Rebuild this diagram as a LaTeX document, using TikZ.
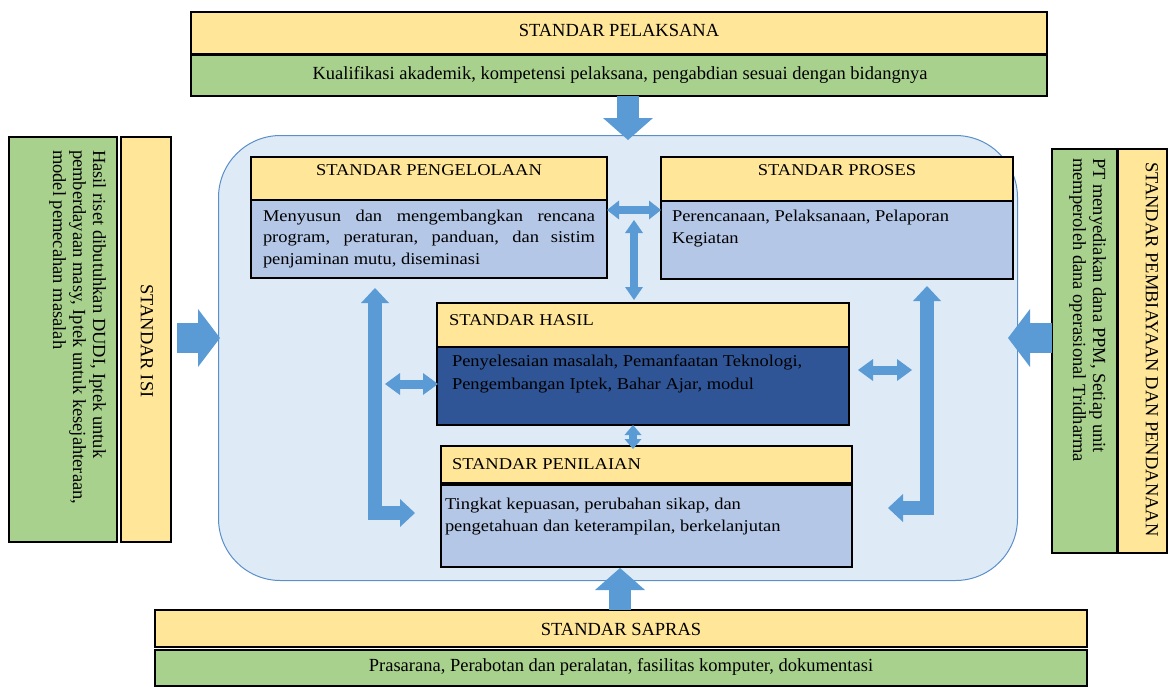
\documentclass[tikz,border=0pt]{standalone}
\usepackage{fontspec}
\setmainfont{Liberation Serif}
\newfontfamily\inr[FakeStretch=1.12]{Liberation Serif}
\usetikzlibrary{arrows.meta}
\definecolor{yel}{HTML}{FFE699}
\definecolor{grn}{HTML}{A9D18E}
\definecolor{lblue}{HTML}{B4C7E7}
\definecolor{dblue}{HTML}{2F5597}
\definecolor{bgblue}{HTML}{DEEBF7}
\definecolor{bgedge}{HTML}{5B8FC9}
\definecolor{arr}{HTML}{5B9BD5}
\begin{document}
\begin{tikzpicture}[x=1pt,y=-1pt,
  box/.style={draw=black, line width=1.3pt, inner sep=0pt, outer sep=0pt, anchor=north west},
  bigtxt/.style={inner sep=0pt, outer sep=0pt, font=\fontsize{18.5}{21}\selectfont},
  intxt/.style={inner sep=0pt, outer sep=0pt, font=\inr\fontsize{16.5}{20}\selectfont},
  fat/.style={draw=arr, line width=#1},
  ]
\useasboundingbox (0,0) rectangle (1169,686);

% big rounded container
\node[draw=bgedge, line width=1pt, fill=bgblue, rounded corners=62pt, inner sep=0pt, anchor=north west,
      minimum width=799pt, minimum height=445pt] (big) at (218,135) {};

% top: standar pelaksana
\node[box, fill=yel, minimum width=856pt, minimum height=42pt] (pelY) at (191,12) {};
\node[box, fill=grn, minimum width=856pt, minimum height=41pt] (pelG) at (191,55) {};
\node[bigtxt] (pelYt) at (619,30) {STANDAR PELAKSANA};
\node[bigtxt] (pelGt) at (620,75) {Kualifikasi akademik, kompetensi pelaksana, pengabdian sesuai dengan bidangnya};

% bottom: standar sapras
\node[box, fill=yel, minimum width=932pt, minimum height=37pt] (sapY) at (155,610) {};
\node[box, fill=grn, minimum width=932pt, minimum height=36pt] (sapG) at (155,650) {};
\node[bigtxt] (sapYt) at (621,629) {STANDAR SAPRAS};
\node[bigtxt] (sapGt) at (621,667) {Prasarana, Perabotan dan peralatan, fasilitas komputer, dokumentasi};

% left: standar isi
\node[box, fill=grn, minimum width=108pt, minimum height=405pt] (isiG) at (9,137) {};
\node[box, fill=yel, minimum width=50pt, minimum height=405pt] (isiY) at (121,137) {};
\node[bigtxt, rotate=-90] (isiYt) at (147,341) {STANDAR ISI};
\node[bigtxt, rotate=-90, anchor=north west, align=left, font=\fontsize{18.5}{20}\selectfont] (isiGt) at (106,150)
  {Hasil riset dibutuhkan DUDI, Iptek untuk\\pemberdayaan masy, Iptek untuk kesejahteraan,\\model pemecahan masalah};

% right: standar pembiayaan
\node[box, fill=grn, minimum width=65pt, minimum height=404pt] (bayG) at (1052,149) {};
\node[box, fill=yel, minimum width=49pt, minimum height=404pt] (bayY) at (1118,149) {};
\node[bigtxt, rotate=-90, anchor=west] (bayYt) at (1152,162) {STANDAR PEMBIAYAAN DAN PENDANAAN};
\node[bigtxt, rotate=-90, anchor=north west, align=left, font=\fontsize{18.5}{20}\selectfont] (bayGt) at (1106,158)
  {PT menyediakan dana PPM, Setiap unit\\memperoleh dana operasional Tridharma};

% standar pengelolaan
\node[box, fill=yel, minimum width=356pt, minimum height=43pt] (pgH) at (251,157) {};
\node[box, fill=lblue, minimum width=356pt, minimum height=78pt] (pgB) at (251,200) {};
\node[intxt] (pgHt) at (429,170) {STANDAR PENGELOLAAN};
\node[intxt, anchor=north west, text width=332pt, align=justify, font=\inr\fontsize{16.5}{21.5}\selectfont] (pgBt) at (263,210)
  {\tolerance=10000\hyphenpenalty=10000 Menyusun dan mengembangkan rencana\linebreak program, peraturan, panduan, dan sistim\linebreak penjaminan mutu, diseminasi};

% standar proses
\node[box, fill=yel, minimum width=352pt, minimum height=44pt] (prH) at (661,157) {};
\node[box, fill=lblue, minimum width=352pt, minimum height=78pt] (prB) at (661,201) {};
\node[intxt] (prHt) at (837,170) {STANDAR PROSES};
\node[intxt, anchor=north west, align=left, font=\inr\fontsize{16.5}{22}\selectfont] (prBt) at (672,210)
  {Perencanaan, Pelaksanaan, Pelaporan\\Kegiatan};

% standar hasil
\node[box, fill=yel, minimum width=412pt, minimum height=44pt] (hsH) at (437,303) {};
\node[box, fill=dblue, minimum width=412pt, minimum height=78pt] (hsB) at (437,347) {};
\node[intxt, anchor=west] (hsHt) at (449,320) {STANDAR HASIL};
\node[intxt, anchor=north west, align=left, font=\inr\fontsize{16.5}{22.5}\selectfont] (hsBt) at (452,355)
  {Penyelesaian masalah, Pemanfaatan Teknologi,\\Pengembangan Iptek, Bahar Ajar, modul};

% standar penilaian
\node[box, fill=yel, minimum width=411pt, minimum height=37pt] (pnH) at (441,446) {};
\node[box, fill=lblue, minimum width=411pt, minimum height=82pt] (pnB) at (441,485) {};
\node[intxt, anchor=west] (pnHt) at (452,464) {STANDAR PENILAIAN};
\node[intxt, anchor=north west, align=left, font=\inr\fontsize{16.5}{22}\selectfont] (pnBt) at (445,498)
  {Tingkat kepuasan, perubahan sikap, dan\\pengetahuan dan keterampilan, berkelanjutan};

% arrow end points
\coordinate (aTopS) at (628,96);   \coordinate (aTopE) at (628,140);
\coordinate (aBotS) at (620,610);  \coordinate (aBotE) at (620,568);
\coordinate (aLS) at (177,338);    \coordinate (aLE) at (220,338);
\coordinate (aRS) at (1052,338);   \coordinate (aRE) at (1008,338);
\coordinate (lTop) at (375,288);   \coordinate (lCor) at (375,513);  \coordinate (lEnd) at (415,513);
\coordinate (rTop) at (927,286);   \coordinate (rCor) at (927,508);  \coordinate (rEnd) at (888,508);
\coordinate (vTop) at (634,220);   \coordinate (vBot) at (634,300);
\coordinate (hL1) at (385,384);    \coordinate (hR1) at (438,384);
\coordinate (hL2) at (858,370);    \coordinate (hR2) at (912,370);
\coordinate (sV1) at (633,425);    \coordinate (sV2) at (633,449);

% big block arrows
\draw[fat=22pt, -{Triangle[width=50pt,length=22pt,line width=0pt]}] (aTopS) -- (aTopE);
\draw[fat=22pt, -{Triangle[width=50pt,length=22pt,line width=0pt]}] (aBotS) -- (aBotE);
\draw[fat=30pt, -{Triangle[width=58pt,length=22pt,line width=0pt]}] (aLS) -- (aLE);
\draw[fat=30pt, -{Triangle[width=58pt,length=22pt,line width=0pt]}] (aRS) -- (aRE);

% inner arrows
\draw[fat=8pt, {Triangle[width=19pt,length=12pt,line width=0pt]}-{Triangle[width=19pt,length=12pt,line width=0pt]}] (pgB.east |- 0,210) -- (prB.west |- 0,210);
\draw[fat=8pt, {Triangle[width=18pt,length=13pt,line width=0pt]}-{Triangle[width=18pt,length=13pt,line width=0pt]}] (vTop) -- (vBot);
\draw[fat=14pt, line join=miter, {Triangle[width=28pt,length=15pt,line width=0pt]}-{Triangle[width=28pt,length=15pt,line width=0pt]}] (lTop) -- (lCor) -- (lEnd);
\draw[fat=14pt, line join=miter, {Triangle[width=28pt,length=15pt,line width=0pt]}-{Triangle[width=28pt,length=15pt,line width=0pt]}] (rTop) -- (rCor) -- (rEnd);
\draw[fat=9pt, {Triangle[width=22pt,length=15pt,line width=0pt]}-{Triangle[width=22pt,length=15pt,line width=0pt]}] (hL1) -- (hR1);
\draw[fat=9pt, {Triangle[width=22pt,length=15pt,line width=0pt]}-{Triangle[width=22pt,length=15pt,line width=0pt]}] (hL2) -- (hR2);
\draw[fat=8pt, {Triangle[width=17pt,length=10pt,line width=0pt]}-{Triangle[width=17pt,length=10pt,line width=0pt]}] (sV1) -- (sV2);
\end{tikzpicture}
\end{document}
